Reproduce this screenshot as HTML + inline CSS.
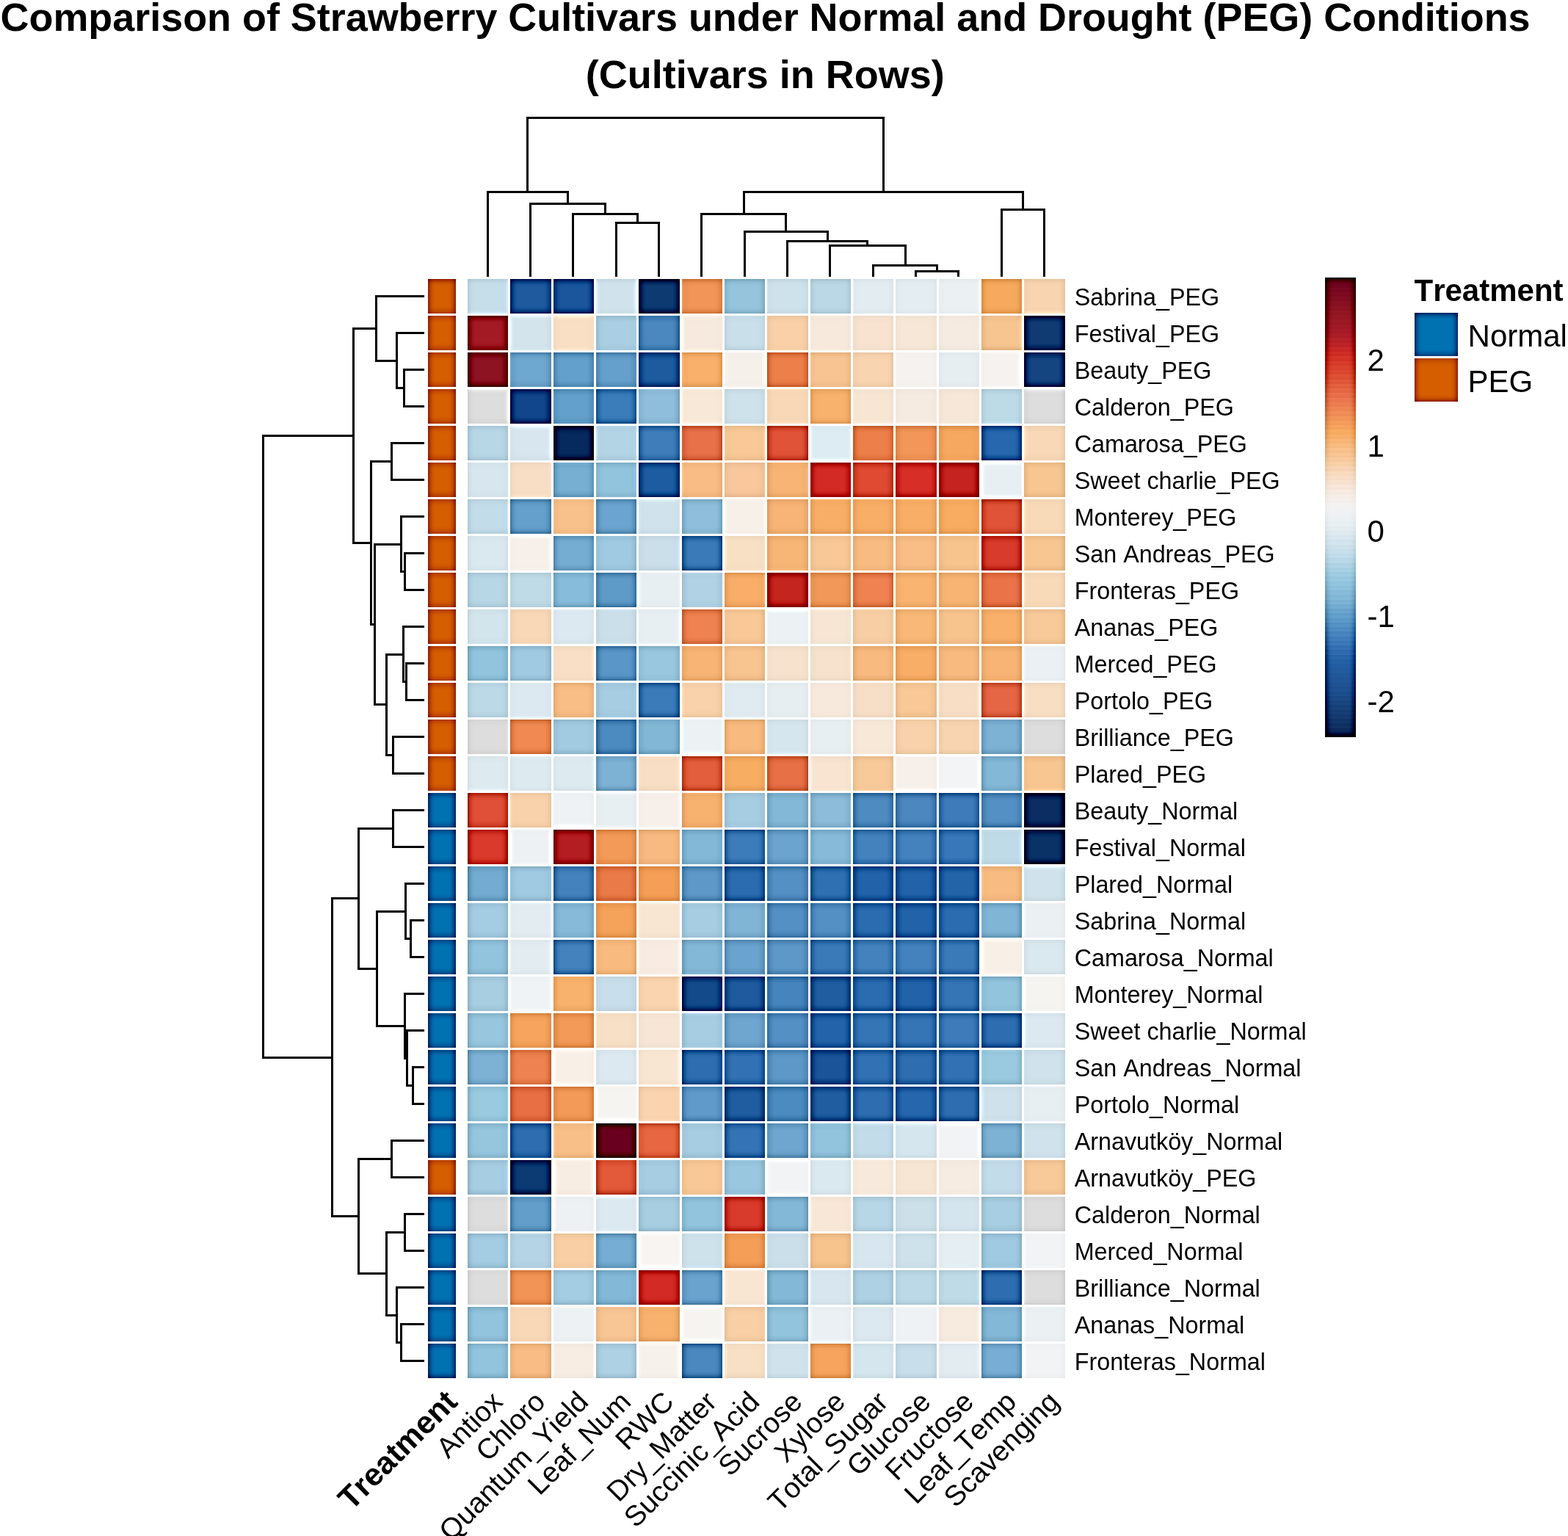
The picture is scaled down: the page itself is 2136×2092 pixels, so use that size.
<!DOCTYPE html><html><head><meta charset="utf-8"><title>Heatmap</title><style>html,body{margin:0;padding:0;background:#fff;overflow:hidden;}svg{display:block;}text{font-family:"Liberation Sans",Arial,sans-serif;fill:#000;font-kerning:none;font-feature-settings:"kern" 0;}</style></head><body>
<svg width="2136" height="2092" viewBox="0 0 2136 2092">
<rect width="2136" height="2092" fill="#fff"/>
<text x="1042.6" y="42" font-size="53.9" font-weight="bold" text-anchor="middle">Comparison of Strawberry Cultivars under Normal and Drought (PEG) Conditions</text>
<text x="1042.3" y="120" font-size="54" font-weight="bold" text-anchor="middle">(Cultivars in Rows)</text>
<defs><filter id="us" x="0" y="0" width="1" height="1" color-interpolation-filters="sRGB"><feGaussianBlur in="SourceGraphic" stdDeviation="4" result="b"/><feColorMatrix in="SourceGraphic" type="matrix" values="0.299 0.587 0.114 0 0 0.299 0.587 0.114 0 0 0.299 0.587 0.114 0 0 0 0 0 0 1" result="ys"/><feColorMatrix in="b" type="matrix" values="0.299 0.587 0.114 0 0 0.299 0.587 0.114 0 0 0.299 0.587 0.114 0 0 0 0 0 0 1" result="yb"/><feComposite in="yb" in2="ys" operator="arithmetic" k1="0" k2="1" k3="-1" k4="1" result="pp"/><feComposite in="ys" in2="yb" operator="arithmetic" k1="0" k2="1" k3="-1" k4="1" result="np"/><feComposite in="SourceGraphic" in2="pp" operator="arithmetic" k1="0" k2="1" k3="-1.0" k4="1.0" result="r1"/><feComposite in="r1" in2="np" operator="arithmetic" k1="0" k2="1" k3="1.0" k4="-1.0"/></filter></defs>
<g filter="url(#us)" shape-rendering="crispEdges"><rect x="570" y="370" width="895" height="520" fill="#fff"/><rect x="570" y="880" width="895" height="1010" fill="#fff"/>
<rect x="637" y="380" width="55" height="47" fill="#C5DEEA"/>
<rect x="695" y="380" width="56" height="47" fill="#1F5A9E"/>
<rect x="754" y="380" width="55" height="47" fill="#1B569C"/>
<rect x="812" y="380" width="55" height="47" fill="#D0E3EC"/>
<rect x="870" y="380" width="56" height="47" fill="#0D3A70"/>
<rect x="929" y="380" width="55" height="47" fill="#F29558"/>
<rect x="987" y="380" width="55" height="47" fill="#96C4DC"/>
<rect x="1045" y="380" width="56" height="47" fill="#CEE2EC"/>
<rect x="1104" y="380" width="55" height="47" fill="#BAD8E6"/>
<rect x="1162" y="380" width="55" height="47" fill="#E2ECF1"/>
<rect x="1220" y="380" width="56" height="47" fill="#E4EDF1"/>
<rect x="1279" y="380" width="55" height="47" fill="#EBF0F3"/>
<rect x="1337" y="380" width="55" height="47" fill="#F7A95E"/>
<rect x="1395" y="380" width="56" height="47" fill="#F8D5B0"/>
<rect x="583" y="380.0" width="38" height="47.0" fill="#D55E00"/>
<rect x="637" y="430" width="55" height="47" fill="#A31A24"/>
<rect x="695" y="430" width="56" height="47" fill="#D3E4EC"/>
<rect x="754" y="430" width="55" height="47" fill="#F9DFC4"/>
<rect x="812" y="430" width="55" height="47" fill="#AACFE3"/>
<rect x="870" y="430" width="56" height="47" fill="#4A88BF"/>
<rect x="929" y="430" width="55" height="47" fill="#F6EADE"/>
<rect x="987" y="430" width="55" height="47" fill="#C9DFEA"/>
<rect x="1045" y="430" width="56" height="47" fill="#F9D0A8"/>
<rect x="1104" y="430" width="55" height="47" fill="#F7EADC"/>
<rect x="1162" y="430" width="55" height="47" fill="#F7E3D0"/>
<rect x="1220" y="430" width="56" height="47" fill="#F7E7D7"/>
<rect x="1279" y="430" width="55" height="47" fill="#F6EBE0"/>
<rect x="1337" y="430" width="55" height="47" fill="#F7C590"/>
<rect x="1395" y="430" width="56" height="47" fill="#0F3A72"/>
<rect x="583" y="430.0" width="38" height="47.0" fill="#D55E00"/>
<rect x="637" y="480" width="55" height="47" fill="#8D1222"/>
<rect x="695" y="480" width="56" height="47" fill="#6EA7CF"/>
<rect x="754" y="480" width="55" height="47" fill="#64A0CC"/>
<rect x="812" y="480" width="55" height="47" fill="#65A0CC"/>
<rect x="870" y="480" width="56" height="47" fill="#1E5A9E"/>
<rect x="929" y="480" width="55" height="47" fill="#F8B06A"/>
<rect x="987" y="480" width="55" height="47" fill="#F5F0EA"/>
<rect x="1045" y="480" width="56" height="47" fill="#ED7F4A"/>
<rect x="1104" y="480" width="55" height="47" fill="#F8C592"/>
<rect x="1162" y="480" width="55" height="47" fill="#F8D4B0"/>
<rect x="1220" y="480" width="56" height="47" fill="#F5F2F0"/>
<rect x="1279" y="480" width="55" height="47" fill="#E6EEF2"/>
<rect x="1337" y="480" width="55" height="47" fill="#F5F2F0"/>
<rect x="1395" y="480" width="56" height="47" fill="#144580"/>
<rect x="583" y="480.0" width="38" height="47.0" fill="#D55E00"/>
<rect x="637" y="530" width="55" height="47" fill="#DDDDDD"/>
<rect x="695" y="530" width="56" height="47" fill="#11468A"/>
<rect x="754" y="530" width="55" height="47" fill="#64A0CC"/>
<rect x="812" y="530" width="55" height="47" fill="#3A7DBA"/>
<rect x="870" y="530" width="56" height="47" fill="#8EBEDB"/>
<rect x="929" y="530" width="55" height="47" fill="#F7E8D8"/>
<rect x="987" y="530" width="55" height="47" fill="#CEE2EC"/>
<rect x="1045" y="530" width="56" height="47" fill="#F9D8B8"/>
<rect x="1104" y="530" width="55" height="47" fill="#F8B26E"/>
<rect x="1162" y="530" width="55" height="47" fill="#F7E6D4"/>
<rect x="1220" y="530" width="56" height="47" fill="#F6EBE0"/>
<rect x="1279" y="530" width="55" height="47" fill="#F6E7D8"/>
<rect x="1337" y="530" width="55" height="47" fill="#BDDAE7"/>
<rect x="1395" y="530" width="56" height="47" fill="#DDDDDD"/>
<rect x="583" y="530.0" width="38" height="47.0" fill="#D55E00"/>
<rect x="637" y="580" width="55" height="47" fill="#B7D6E6"/>
<rect x="695" y="580" width="56" height="47" fill="#D8E7EF"/>
<rect x="754" y="580" width="55" height="47" fill="#062A5E"/>
<rect x="812" y="580" width="55" height="47" fill="#B3D4E5"/>
<rect x="870" y="580" width="56" height="47" fill="#3E7DBA"/>
<rect x="929" y="580" width="55" height="47" fill="#E9714A"/>
<rect x="987" y="580" width="55" height="47" fill="#F8C896"/>
<rect x="1045" y="580" width="56" height="47" fill="#E05338"/>
<rect x="1104" y="580" width="55" height="47" fill="#DDEBF2"/>
<rect x="1162" y="580" width="55" height="47" fill="#ED7F4A"/>
<rect x="1220" y="580" width="56" height="47" fill="#F2965A"/>
<rect x="1279" y="580" width="55" height="47" fill="#F6A860"/>
<rect x="1337" y="580" width="55" height="47" fill="#2767AD"/>
<rect x="1395" y="580" width="56" height="47" fill="#F8D8B6"/>
<rect x="583" y="580.0" width="38" height="47.0" fill="#D55E00"/>
<rect x="637" y="630" width="55" height="47" fill="#D8E7EF"/>
<rect x="695" y="630" width="56" height="47" fill="#F8DEC4"/>
<rect x="754" y="630" width="55" height="47" fill="#77AFD3"/>
<rect x="812" y="630" width="55" height="47" fill="#93C4DE"/>
<rect x="870" y="630" width="56" height="47" fill="#1D5CA0"/>
<rect x="929" y="630" width="55" height="47" fill="#F8BC84"/>
<rect x="987" y="630" width="55" height="47" fill="#F8C89C"/>
<rect x="1045" y="630" width="56" height="47" fill="#F8B474"/>
<rect x="1104" y="630" width="55" height="47" fill="#D42A25"/>
<rect x="1162" y="630" width="55" height="47" fill="#E04A32"/>
<rect x="1220" y="630" width="56" height="47" fill="#D72E28"/>
<rect x="1279" y="630" width="55" height="47" fill="#C4231F"/>
<rect x="1337" y="630" width="55" height="47" fill="#E8EFF3"/>
<rect x="1395" y="630" width="56" height="47" fill="#F8C690"/>
<rect x="583" y="630.0" width="38" height="47.0" fill="#D55E00"/>
<rect x="637" y="680" width="55" height="47" fill="#C3DCE9"/>
<rect x="695" y="680" width="56" height="47" fill="#65A0CC"/>
<rect x="754" y="680" width="55" height="47" fill="#F8C08A"/>
<rect x="812" y="680" width="55" height="47" fill="#6BA4CE"/>
<rect x="870" y="680" width="56" height="47" fill="#D0E3EC"/>
<rect x="929" y="680" width="55" height="47" fill="#8EBEDB"/>
<rect x="987" y="680" width="55" height="47" fill="#F7F0E8"/>
<rect x="1045" y="680" width="56" height="47" fill="#F8B476"/>
<rect x="1104" y="680" width="55" height="47" fill="#F8AE66"/>
<rect x="1162" y="680" width="55" height="47" fill="#F8AE66"/>
<rect x="1220" y="680" width="56" height="47" fill="#F8AE66"/>
<rect x="1279" y="680" width="55" height="47" fill="#F8AC62"/>
<rect x="1337" y="680" width="55" height="47" fill="#E05338"/>
<rect x="1395" y="680" width="56" height="47" fill="#F8DAB8"/>
<rect x="583" y="680.0" width="38" height="47.0" fill="#D55E00"/>
<rect x="637" y="730" width="55" height="47" fill="#DAE8EF"/>
<rect x="695" y="730" width="56" height="47" fill="#F7F0EA"/>
<rect x="754" y="730" width="55" height="47" fill="#75ADD2"/>
<rect x="812" y="730" width="55" height="47" fill="#A0CAE1"/>
<rect x="870" y="730" width="56" height="47" fill="#CADFEA"/>
<rect x="929" y="730" width="55" height="47" fill="#3A7AB8"/>
<rect x="987" y="730" width="55" height="47" fill="#F8E0C4"/>
<rect x="1045" y="730" width="56" height="47" fill="#F8B676"/>
<rect x="1104" y="730" width="55" height="47" fill="#F8C896"/>
<rect x="1162" y="730" width="55" height="47" fill="#F8BC82"/>
<rect x="1220" y="730" width="56" height="47" fill="#F8BE86"/>
<rect x="1279" y="730" width="55" height="47" fill="#F8C48E"/>
<rect x="1337" y="730" width="55" height="47" fill="#D83A2C"/>
<rect x="1395" y="730" width="56" height="47" fill="#F8C690"/>
<rect x="583" y="730.0" width="38" height="47.0" fill="#D55E00"/>
<rect x="637" y="780" width="55" height="47" fill="#B8D7E6"/>
<rect x="695" y="780" width="56" height="47" fill="#C0DBE8"/>
<rect x="754" y="780" width="55" height="47" fill="#87BCDA"/>
<rect x="812" y="780" width="55" height="47" fill="#5E9BC9"/>
<rect x="870" y="780" width="56" height="47" fill="#E8EFF2"/>
<rect x="929" y="780" width="55" height="47" fill="#B0D2E4"/>
<rect x="987" y="780" width="55" height="47" fill="#F8AE68"/>
<rect x="1045" y="780" width="56" height="47" fill="#C4251F"/>
<rect x="1104" y="780" width="55" height="47" fill="#F29858"/>
<rect x="1162" y="780" width="55" height="47" fill="#EE8250"/>
<rect x="1220" y="780" width="56" height="47" fill="#F8B470"/>
<rect x="1279" y="780" width="55" height="47" fill="#F8B472"/>
<rect x="1337" y="780" width="55" height="47" fill="#EA7448"/>
<rect x="1395" y="780" width="56" height="47" fill="#F9DAB8"/>
<rect x="583" y="780.0" width="38" height="47.0" fill="#D55E00"/>
<rect x="637" y="830" width="55" height="47" fill="#D2E4EC"/>
<rect x="695" y="830" width="56" height="47" fill="#F9D8B8"/>
<rect x="754" y="830" width="55" height="47" fill="#DCE9F0"/>
<rect x="812" y="830" width="55" height="47" fill="#CADFEA"/>
<rect x="870" y="830" width="56" height="47" fill="#E8EFF2"/>
<rect x="929" y="830" width="55" height="47" fill="#EE8250"/>
<rect x="987" y="830" width="55" height="47" fill="#F8C896"/>
<rect x="1045" y="830" width="56" height="47" fill="#ECF1F3"/>
<rect x="1104" y="830" width="55" height="47" fill="#F7E6D4"/>
<rect x="1162" y="830" width="55" height="47" fill="#F8CFA4"/>
<rect x="1220" y="830" width="56" height="47" fill="#F8B878"/>
<rect x="1279" y="830" width="55" height="47" fill="#F8C48E"/>
<rect x="1337" y="830" width="55" height="47" fill="#F8B06A"/>
<rect x="1395" y="830" width="56" height="47" fill="#F8CA9A"/>
<rect x="583" y="830.0" width="38" height="47.0" fill="#D55E00"/>
<rect x="637" y="880" width="55" height="47" fill="#92C4DE"/>
<rect x="695" y="880" width="56" height="47" fill="#9FCAE1"/>
<rect x="754" y="880" width="55" height="47" fill="#F8DFC6"/>
<rect x="812" y="880" width="55" height="47" fill="#5A96C7"/>
<rect x="870" y="880" width="56" height="47" fill="#99C7DF"/>
<rect x="929" y="880" width="55" height="47" fill="#F8B474"/>
<rect x="987" y="880" width="55" height="47" fill="#F8C490"/>
<rect x="1045" y="880" width="56" height="47" fill="#F7E2CE"/>
<rect x="1104" y="880" width="55" height="47" fill="#F7E2CE"/>
<rect x="1162" y="880" width="55" height="47" fill="#F8BA7E"/>
<rect x="1220" y="880" width="56" height="47" fill="#F8AE66"/>
<rect x="1279" y="880" width="55" height="47" fill="#F8BA7E"/>
<rect x="1337" y="880" width="55" height="47" fill="#F8B474"/>
<rect x="1395" y="880" width="56" height="47" fill="#EAF0F3"/>
<rect x="583" y="880.0" width="38" height="47.0" fill="#D55E00"/>
<rect x="637" y="930" width="55" height="47" fill="#BCD9E7"/>
<rect x="695" y="930" width="56" height="47" fill="#DCE9F0"/>
<rect x="754" y="930" width="55" height="47" fill="#F8BE86"/>
<rect x="812" y="930" width="55" height="47" fill="#A6CDE2"/>
<rect x="870" y="930" width="56" height="47" fill="#3C7BB9"/>
<rect x="929" y="930" width="55" height="47" fill="#F9D2AC"/>
<rect x="987" y="930" width="55" height="47" fill="#E0EBF1"/>
<rect x="1045" y="930" width="56" height="47" fill="#E6EEF2"/>
<rect x="1104" y="930" width="55" height="47" fill="#F7EADC"/>
<rect x="1162" y="930" width="55" height="47" fill="#F7DEC6"/>
<rect x="1220" y="930" width="56" height="47" fill="#F8C896"/>
<rect x="1279" y="930" width="55" height="47" fill="#F8DEC4"/>
<rect x="1337" y="930" width="55" height="47" fill="#E56644"/>
<rect x="1395" y="930" width="56" height="47" fill="#F8DEC2"/>
<rect x="583" y="930.0" width="38" height="47.0" fill="#D55E00"/>
<rect x="637" y="980" width="55" height="47" fill="#DDDDDD"/>
<rect x="695" y="980" width="56" height="47" fill="#F18A52"/>
<rect x="754" y="980" width="55" height="47" fill="#A2CBE1"/>
<rect x="812" y="980" width="55" height="47" fill="#4C8BC0"/>
<rect x="870" y="980" width="56" height="47" fill="#82B7D6"/>
<rect x="929" y="980" width="55" height="47" fill="#ECF1F4"/>
<rect x="987" y="980" width="55" height="47" fill="#F8BA7E"/>
<rect x="1045" y="980" width="56" height="47" fill="#D6E6EE"/>
<rect x="1104" y="980" width="55" height="47" fill="#E8EFF2"/>
<rect x="1162" y="980" width="55" height="47" fill="#F7E8D8"/>
<rect x="1220" y="980" width="56" height="47" fill="#F8D2AA"/>
<rect x="1279" y="980" width="55" height="47" fill="#F8D4B0"/>
<rect x="1337" y="980" width="55" height="47" fill="#7DB2D5"/>
<rect x="1395" y="980" width="56" height="47" fill="#DDDDDD"/>
<rect x="583" y="980.0" width="38" height="47.0" fill="#D55E00"/>
<rect x="637" y="1030" width="55" height="47" fill="#DDEAF0"/>
<rect x="695" y="1030" width="56" height="47" fill="#DDEAF0"/>
<rect x="754" y="1030" width="55" height="47" fill="#DDEAF0"/>
<rect x="812" y="1030" width="55" height="47" fill="#7DB2D5"/>
<rect x="870" y="1030" width="56" height="47" fill="#F8DEC4"/>
<rect x="929" y="1030" width="55" height="47" fill="#E35E3C"/>
<rect x="987" y="1030" width="55" height="47" fill="#F8AE62"/>
<rect x="1045" y="1030" width="56" height="47" fill="#E87046"/>
<rect x="1104" y="1030" width="55" height="47" fill="#F8E4D0"/>
<rect x="1162" y="1030" width="55" height="47" fill="#F8CA9A"/>
<rect x="1220" y="1030" width="56" height="47" fill="#F7F0EA"/>
<rect x="1279" y="1030" width="55" height="47" fill="#F3F4F5"/>
<rect x="1337" y="1030" width="55" height="47" fill="#84B8D7"/>
<rect x="1395" y="1030" width="56" height="47" fill="#F8C690"/>
<rect x="583" y="1030.0" width="38" height="47.0" fill="#D55E00"/>
<rect x="637" y="1080" width="55" height="47" fill="#E05038"/>
<rect x="695" y="1080" width="56" height="47" fill="#F9D2AC"/>
<rect x="754" y="1080" width="55" height="47" fill="#EEF2F4"/>
<rect x="812" y="1080" width="55" height="47" fill="#E8EFF2"/>
<rect x="870" y="1080" width="56" height="47" fill="#F7F0EA"/>
<rect x="929" y="1080" width="55" height="47" fill="#F8B270"/>
<rect x="987" y="1080" width="55" height="47" fill="#A6CDE2"/>
<rect x="1045" y="1080" width="56" height="47" fill="#84B8D7"/>
<rect x="1104" y="1080" width="55" height="47" fill="#8CBCDA"/>
<rect x="1162" y="1080" width="55" height="47" fill="#4E8BC0"/>
<rect x="1220" y="1080" width="56" height="47" fill="#4C88BF"/>
<rect x="1279" y="1080" width="55" height="47" fill="#3D7BBA"/>
<rect x="1337" y="1080" width="55" height="47" fill="#5590C4"/>
<rect x="1395" y="1080" width="56" height="47" fill="#0B2D62"/>
<rect x="583" y="1080.0" width="38" height="47.0" fill="#0072B2"/>
<rect x="637" y="1130" width="55" height="47" fill="#DA3A2C"/>
<rect x="695" y="1130" width="56" height="47" fill="#EDF1F3"/>
<rect x="754" y="1130" width="55" height="47" fill="#B41E22"/>
<rect x="812" y="1130" width="55" height="47" fill="#F49A58"/>
<rect x="870" y="1130" width="56" height="47" fill="#F8BA80"/>
<rect x="929" y="1130" width="55" height="47" fill="#84B8D7"/>
<rect x="987" y="1130" width="55" height="47" fill="#3C7CBA"/>
<rect x="1045" y="1130" width="56" height="47" fill="#6BA4CE"/>
<rect x="1104" y="1130" width="55" height="47" fill="#86BAD8"/>
<rect x="1162" y="1130" width="55" height="47" fill="#4482BD"/>
<rect x="1220" y="1130" width="56" height="47" fill="#4482BD"/>
<rect x="1279" y="1130" width="55" height="47" fill="#3878B8"/>
<rect x="1337" y="1130" width="55" height="47" fill="#C0DBE8"/>
<rect x="1395" y="1130" width="56" height="47" fill="#0B3266"/>
<rect x="583" y="1130.0" width="38" height="47.0" fill="#0072B2"/>
<rect x="637" y="1180" width="55" height="47" fill="#73ABD1"/>
<rect x="695" y="1180" width="56" height="47" fill="#A0CAE1"/>
<rect x="754" y="1180" width="55" height="47" fill="#4482BD"/>
<rect x="812" y="1180" width="55" height="47" fill="#EA7A48"/>
<rect x="870" y="1180" width="56" height="47" fill="#F49E58"/>
<rect x="929" y="1180" width="55" height="47" fill="#5D98C8"/>
<rect x="987" y="1180" width="55" height="47" fill="#2A6CAF"/>
<rect x="1045" y="1180" width="56" height="47" fill="#5590C4"/>
<rect x="1104" y="1180" width="55" height="47" fill="#2E70B2"/>
<rect x="1162" y="1180" width="55" height="47" fill="#2262A8"/>
<rect x="1220" y="1180" width="56" height="47" fill="#2262A8"/>
<rect x="1279" y="1180" width="55" height="47" fill="#2364A9"/>
<rect x="1337" y="1180" width="55" height="47" fill="#F8BC82"/>
<rect x="1395" y="1180" width="56" height="47" fill="#D0E3EC"/>
<rect x="583" y="1180.0" width="38" height="47.0" fill="#0072B2"/>
<rect x="637" y="1230" width="55" height="47" fill="#A4CCE2"/>
<rect x="695" y="1230" width="56" height="47" fill="#E2ECF1"/>
<rect x="754" y="1230" width="55" height="47" fill="#86BAD8"/>
<rect x="812" y="1230" width="55" height="47" fill="#F5A25A"/>
<rect x="870" y="1230" width="56" height="47" fill="#F8E5D2"/>
<rect x="929" y="1230" width="55" height="47" fill="#A6CDE2"/>
<rect x="987" y="1230" width="55" height="47" fill="#80B5D6"/>
<rect x="1045" y="1230" width="56" height="47" fill="#5590C4"/>
<rect x="1104" y="1230" width="55" height="47" fill="#5590C4"/>
<rect x="1162" y="1230" width="55" height="47" fill="#2A6CAF"/>
<rect x="1220" y="1230" width="56" height="47" fill="#2262A8"/>
<rect x="1279" y="1230" width="55" height="47" fill="#2A6CAF"/>
<rect x="1337" y="1230" width="55" height="47" fill="#80B5D6"/>
<rect x="1395" y="1230" width="56" height="47" fill="#EBF0F3"/>
<rect x="583" y="1230.0" width="38" height="47.0" fill="#0072B2"/>
<rect x="637" y="1280" width="55" height="47" fill="#93C4DE"/>
<rect x="695" y="1280" width="56" height="47" fill="#E2ECF1"/>
<rect x="754" y="1280" width="55" height="47" fill="#4482BD"/>
<rect x="812" y="1280" width="55" height="47" fill="#F8BA7E"/>
<rect x="870" y="1280" width="56" height="47" fill="#F8ECE2"/>
<rect x="929" y="1280" width="55" height="47" fill="#84B8D7"/>
<rect x="987" y="1280" width="55" height="47" fill="#6AA3CD"/>
<rect x="1045" y="1280" width="56" height="47" fill="#5D98C8"/>
<rect x="1104" y="1280" width="55" height="47" fill="#3A7AB8"/>
<rect x="1162" y="1280" width="55" height="47" fill="#4482BD"/>
<rect x="1220" y="1280" width="56" height="47" fill="#4482BD"/>
<rect x="1279" y="1280" width="55" height="47" fill="#3A7AB8"/>
<rect x="1337" y="1280" width="55" height="47" fill="#F8EFE6"/>
<rect x="1395" y="1280" width="56" height="47" fill="#DAE8EF"/>
<rect x="583" y="1280.0" width="38" height="47.0" fill="#0072B2"/>
<rect x="637" y="1330" width="55" height="47" fill="#A8CEE2"/>
<rect x="695" y="1330" width="56" height="47" fill="#F0F3F5"/>
<rect x="754" y="1330" width="55" height="47" fill="#F8B26E"/>
<rect x="812" y="1330" width="55" height="47" fill="#C8DEEA"/>
<rect x="870" y="1330" width="56" height="47" fill="#F9D4AE"/>
<rect x="929" y="1330" width="55" height="47" fill="#134A8A"/>
<rect x="987" y="1330" width="55" height="47" fill="#1F5A9E"/>
<rect x="1045" y="1330" width="56" height="47" fill="#4684BE"/>
<rect x="1104" y="1330" width="55" height="47" fill="#1F5CA0"/>
<rect x="1162" y="1330" width="55" height="47" fill="#2A6CAF"/>
<rect x="1220" y="1330" width="56" height="47" fill="#2262A8"/>
<rect x="1279" y="1330" width="55" height="47" fill="#3575B6"/>
<rect x="1337" y="1330" width="55" height="47" fill="#93C4DE"/>
<rect x="1395" y="1330" width="56" height="47" fill="#F6F4F1"/>
<rect x="583" y="1330.0" width="38" height="47.0" fill="#0072B2"/>
<rect x="637" y="1380" width="55" height="47" fill="#98C6DF"/>
<rect x="695" y="1380" width="56" height="47" fill="#F6A45E"/>
<rect x="754" y="1380" width="55" height="47" fill="#F49A58"/>
<rect x="812" y="1380" width="55" height="47" fill="#F8E0C6"/>
<rect x="870" y="1380" width="56" height="47" fill="#F7E6D6"/>
<rect x="929" y="1380" width="55" height="47" fill="#A6CDE2"/>
<rect x="987" y="1380" width="55" height="47" fill="#6EA6CF"/>
<rect x="1045" y="1380" width="56" height="47" fill="#5590C4"/>
<rect x="1104" y="1380" width="55" height="47" fill="#2263A9"/>
<rect x="1162" y="1380" width="55" height="47" fill="#3575B6"/>
<rect x="1220" y="1380" width="56" height="47" fill="#3575B6"/>
<rect x="1279" y="1380" width="55" height="47" fill="#3D7BBA"/>
<rect x="1337" y="1380" width="55" height="47" fill="#2E6EB0"/>
<rect x="1395" y="1380" width="56" height="47" fill="#DDE9F0"/>
<rect x="583" y="1380.0" width="38" height="47.0" fill="#0072B2"/>
<rect x="637" y="1430" width="55" height="47" fill="#7DB2D5"/>
<rect x="695" y="1430" width="56" height="47" fill="#EE8250"/>
<rect x="754" y="1430" width="55" height="47" fill="#F8EFE6"/>
<rect x="812" y="1430" width="55" height="47" fill="#DDE9F0"/>
<rect x="870" y="1430" width="56" height="47" fill="#F8E5D2"/>
<rect x="929" y="1430" width="55" height="47" fill="#2E6EB0"/>
<rect x="987" y="1430" width="55" height="47" fill="#3272B4"/>
<rect x="1045" y="1430" width="56" height="47" fill="#5D98C8"/>
<rect x="1104" y="1430" width="55" height="47" fill="#1B5498"/>
<rect x="1162" y="1430" width="55" height="47" fill="#3272B4"/>
<rect x="1220" y="1430" width="56" height="47" fill="#2E6EB0"/>
<rect x="1279" y="1430" width="55" height="47" fill="#3272B4"/>
<rect x="1337" y="1430" width="55" height="47" fill="#9ACAE0"/>
<rect x="1395" y="1430" width="56" height="47" fill="#D0E3EC"/>
<rect x="583" y="1430.0" width="38" height="47.0" fill="#0072B2"/>
<rect x="637" y="1480" width="55" height="47" fill="#9ACAE0"/>
<rect x="695" y="1480" width="56" height="47" fill="#E86E44"/>
<rect x="754" y="1480" width="55" height="47" fill="#F49A58"/>
<rect x="812" y="1480" width="55" height="47" fill="#F6F4F1"/>
<rect x="870" y="1480" width="56" height="47" fill="#F9D4AE"/>
<rect x="929" y="1480" width="55" height="47" fill="#609ACA"/>
<rect x="987" y="1480" width="55" height="47" fill="#1F5CA0"/>
<rect x="1045" y="1480" width="56" height="47" fill="#4C8BC0"/>
<rect x="1104" y="1480" width="55" height="47" fill="#1F5CA0"/>
<rect x="1162" y="1480" width="55" height="47" fill="#2E6EB0"/>
<rect x="1220" y="1480" width="56" height="47" fill="#2666AC"/>
<rect x="1279" y="1480" width="55" height="47" fill="#2E6EB0"/>
<rect x="1337" y="1480" width="55" height="47" fill="#CFE2EC"/>
<rect x="1395" y="1480" width="56" height="47" fill="#E8EFF2"/>
<rect x="583" y="1480.0" width="38" height="47.0" fill="#0072B2"/>
<rect x="637" y="1530" width="55" height="47" fill="#96C6DE"/>
<rect x="695" y="1530" width="56" height="47" fill="#2E6EB0"/>
<rect x="754" y="1530" width="55" height="47" fill="#F8C088"/>
<rect x="812" y="1530" width="55" height="47" fill="#6A0020"/>
<rect x="870" y="1530" width="56" height="47" fill="#E86642"/>
<rect x="929" y="1530" width="55" height="47" fill="#A6CDE2"/>
<rect x="987" y="1530" width="55" height="47" fill="#3474B5"/>
<rect x="1045" y="1530" width="56" height="47" fill="#6EA6CF"/>
<rect x="1104" y="1530" width="55" height="47" fill="#92C4DE"/>
<rect x="1162" y="1530" width="55" height="47" fill="#C3DCE9"/>
<rect x="1220" y="1530" width="56" height="47" fill="#D6E6EE"/>
<rect x="1279" y="1530" width="55" height="47" fill="#F2F3F5"/>
<rect x="1337" y="1530" width="55" height="47" fill="#7DB2D5"/>
<rect x="1395" y="1530" width="56" height="47" fill="#D0E3EC"/>
<rect x="583" y="1530.0" width="38" height="47.0" fill="#0072B2"/>
<rect x="637" y="1580" width="55" height="47" fill="#A6CDE2"/>
<rect x="695" y="1580" width="56" height="47" fill="#0C3A73"/>
<rect x="754" y="1580" width="55" height="47" fill="#F8EDE2"/>
<rect x="812" y="1580" width="55" height="47" fill="#E35A3A"/>
<rect x="870" y="1580" width="56" height="47" fill="#A6CDE2"/>
<rect x="929" y="1580" width="55" height="47" fill="#F8C896"/>
<rect x="987" y="1580" width="55" height="47" fill="#99C7DF"/>
<rect x="1045" y="1580" width="56" height="47" fill="#F2F3F5"/>
<rect x="1104" y="1580" width="55" height="47" fill="#DAE8EF"/>
<rect x="1162" y="1580" width="55" height="47" fill="#F7EADC"/>
<rect x="1220" y="1580" width="56" height="47" fill="#F7E6D4"/>
<rect x="1279" y="1580" width="55" height="47" fill="#F7ECE2"/>
<rect x="1337" y="1580" width="55" height="47" fill="#C3DCE9"/>
<rect x="1395" y="1580" width="56" height="47" fill="#F8CA9A"/>
<rect x="583" y="1580.0" width="38" height="47.0" fill="#D55E00"/>
<rect x="637" y="1630" width="55" height="47" fill="#DDDDDD"/>
<rect x="695" y="1630" width="56" height="47" fill="#639ECB"/>
<rect x="754" y="1630" width="55" height="47" fill="#EDF1F3"/>
<rect x="812" y="1630" width="55" height="47" fill="#DDE9F0"/>
<rect x="870" y="1630" width="56" height="47" fill="#A8CEE2"/>
<rect x="929" y="1630" width="55" height="47" fill="#93C4DE"/>
<rect x="987" y="1630" width="55" height="47" fill="#D83A2C"/>
<rect x="1045" y="1630" width="56" height="47" fill="#84B8D7"/>
<rect x="1104" y="1630" width="55" height="47" fill="#F8E7D6"/>
<rect x="1162" y="1630" width="55" height="47" fill="#B8D7E6"/>
<rect x="1220" y="1630" width="56" height="47" fill="#CCE0EA"/>
<rect x="1279" y="1630" width="55" height="47" fill="#D4E5EE"/>
<rect x="1337" y="1630" width="55" height="47" fill="#A8CEE2"/>
<rect x="1395" y="1630" width="56" height="47" fill="#DDDDDD"/>
<rect x="583" y="1630.0" width="38" height="47.0" fill="#0072B2"/>
<rect x="637" y="1680" width="55" height="47" fill="#A4CCE2"/>
<rect x="695" y="1680" width="56" height="47" fill="#B5D5E6"/>
<rect x="754" y="1680" width="55" height="47" fill="#F9D0A6"/>
<rect x="812" y="1680" width="55" height="47" fill="#76ADD2"/>
<rect x="870" y="1680" width="56" height="47" fill="#F7F4F1"/>
<rect x="929" y="1680" width="55" height="47" fill="#CEE2EC"/>
<rect x="987" y="1680" width="55" height="47" fill="#F59E58"/>
<rect x="1045" y="1680" width="56" height="47" fill="#CADFEA"/>
<rect x="1104" y="1680" width="55" height="47" fill="#F8C48E"/>
<rect x="1162" y="1680" width="55" height="47" fill="#D8E7EF"/>
<rect x="1220" y="1680" width="56" height="47" fill="#CEE2EC"/>
<rect x="1279" y="1680" width="55" height="47" fill="#E5EEF2"/>
<rect x="1337" y="1680" width="55" height="47" fill="#A0CAE1"/>
<rect x="1395" y="1680" width="56" height="47" fill="#F2F3F5"/>
<rect x="583" y="1680.0" width="38" height="47.0" fill="#0072B2"/>
<rect x="637" y="1730" width="55" height="47" fill="#DDDDDD"/>
<rect x="695" y="1730" width="56" height="47" fill="#F29456"/>
<rect x="754" y="1730" width="55" height="47" fill="#A4CCE2"/>
<rect x="812" y="1730" width="55" height="47" fill="#84B8D7"/>
<rect x="870" y="1730" width="56" height="47" fill="#D42A25"/>
<rect x="929" y="1730" width="55" height="47" fill="#6AA3CD"/>
<rect x="987" y="1730" width="55" height="47" fill="#F8E5D2"/>
<rect x="1045" y="1730" width="56" height="47" fill="#84B8D7"/>
<rect x="1104" y="1730" width="55" height="47" fill="#D8E7EF"/>
<rect x="1162" y="1730" width="55" height="47" fill="#AED1E4"/>
<rect x="1220" y="1730" width="56" height="47" fill="#BCD9E7"/>
<rect x="1279" y="1730" width="55" height="47" fill="#C0DBE8"/>
<rect x="1337" y="1730" width="55" height="47" fill="#2E6EB0"/>
<rect x="1395" y="1730" width="56" height="47" fill="#DDDDDD"/>
<rect x="583" y="1730.0" width="38" height="47.0" fill="#0072B2"/>
<rect x="637" y="1780" width="55" height="47" fill="#93C4DE"/>
<rect x="695" y="1780" width="56" height="47" fill="#F9D8B8"/>
<rect x="754" y="1780" width="55" height="47" fill="#EDF1F3"/>
<rect x="812" y="1780" width="55" height="47" fill="#F8C594"/>
<rect x="870" y="1780" width="56" height="47" fill="#F8B26E"/>
<rect x="929" y="1780" width="55" height="47" fill="#F6F4F1"/>
<rect x="987" y="1780" width="55" height="47" fill="#F9D0A6"/>
<rect x="1045" y="1780" width="56" height="47" fill="#93C4DE"/>
<rect x="1104" y="1780" width="55" height="47" fill="#EAF0F3"/>
<rect x="1162" y="1780" width="55" height="47" fill="#DCE9F0"/>
<rect x="1220" y="1780" width="56" height="47" fill="#EFF2F4"/>
<rect x="1279" y="1780" width="55" height="47" fill="#F7EADE"/>
<rect x="1337" y="1780" width="55" height="47" fill="#84B8D7"/>
<rect x="1395" y="1780" width="56" height="47" fill="#EBF0F3"/>
<rect x="583" y="1780.0" width="38" height="47.0" fill="#0072B2"/>
<rect x="637" y="1830" width="55" height="47" fill="#93C4DE"/>
<rect x="695" y="1830" width="56" height="47" fill="#F8BC84"/>
<rect x="754" y="1830" width="55" height="47" fill="#F7EDE2"/>
<rect x="812" y="1830" width="55" height="47" fill="#AED1E4"/>
<rect x="870" y="1830" width="56" height="47" fill="#F7F1EC"/>
<rect x="929" y="1830" width="55" height="47" fill="#4A88BF"/>
<rect x="987" y="1830" width="55" height="47" fill="#F8E0C6"/>
<rect x="1045" y="1830" width="56" height="47" fill="#D0E3EC"/>
<rect x="1104" y="1830" width="55" height="47" fill="#F6A45E"/>
<rect x="1162" y="1830" width="55" height="47" fill="#D6E6EE"/>
<rect x="1220" y="1830" width="56" height="47" fill="#C8DEEA"/>
<rect x="1279" y="1830" width="55" height="47" fill="#E2ECF1"/>
<rect x="1337" y="1830" width="55" height="47" fill="#78AED3"/>
<rect x="1395" y="1830" width="56" height="47" fill="#F2F3F5"/>
<rect x="583" y="1830.0" width="38" height="47.0" fill="#0072B2"/>
</g>
<path d="M839.5 377.0V303.5H897.5V377.0 M780.5 377.0V291.5H868.5V303.5 M722.5 377.0V277.5H824.5V291.5 M664.5 377.0V261.5H773.5V277.5 M1247.5 377.0V369.5H1305.5V377.0 M1189.5 377.0V361.5H1276.5V369.5 M1130.5 377.0V334.5H1233.5V361.5 M1072.5 377.0V328.5H1181.5V334.5 M1014.5 377.0V315.5H1127.5V328.5 M955.5 377.0V291.5H1070.5V315.5 M1364.5 377.0V285.5H1422.5V377.0 M1013.5 291.5V261.5H1393.5V285.5 M718.5 261.5V160.5H1203.5V261.5 M578.0 503.5H550.5V553.5H578.0 M578.0 453.5H540.5V528.5H550.5 M578.0 403.5H512.5V491.5H540.5 M578.0 603.5H533.5V653.5H578.0 M578.0 753.5H551.5V803.5H578.0 M578.0 703.5H546.5V778.5H551.5 M578.0 903.5H553.5V953.5H578.0 M578.0 853.5H549.5V928.5H553.5 M578.0 1003.5H535.5V1053.5H578.0 M549.5 891.5H526.5V1028.5H535.5 M546.5 741.5H510.5V959.5H526.5 M533.5 628.5H505.5V850.5H510.5 M512.5 447.5H481.5V739.5H505.5 M578.0 1103.5H535.5V1153.5H578.0 M578.0 1253.5H559.5V1303.5H578.0 M578.0 1203.5H552.5V1278.5H559.5 M578.0 1453.5H562.5V1503.5H578.0 M578.0 1403.5H554.5V1478.5H562.5 M578.0 1353.5H551.5V1441.5H554.5 M552.5 1241.5H513.5V1397.5H551.5 M535.5 1128.5H488.5V1319.5H513.5 M578.0 1553.5H533.5V1603.5H578.0 M578.0 1653.5H551.5V1703.5H578.0 M578.0 1803.5H546.5V1853.5H578.0 M578.0 1753.5H540.5V1828.5H546.5 M551.5 1678.5H526.5V1791.5H540.5 M533.5 1578.5H488.5V1734.5H526.5 M488.5 1223.5H452.5V1656.5H488.5 M481.5 593.5H358.5V1440.5H452.5" fill="none" stroke="#000" stroke-width="3" stroke-linecap="butt" stroke-linejoin="miter"/>
<text x="1463.7" y="415.9" font-size="32.3">Sabrina_PEG</text>
<text x="1463.7" y="465.9" font-size="32.3">Festival_PEG</text>
<text x="1463.7" y="515.9" font-size="32.3">Beauty_PEG</text>
<text x="1463.7" y="565.9" font-size="32.3">Calderon_PEG</text>
<text x="1463.7" y="615.9" font-size="32.3">Camarosa_PEG</text>
<text x="1463.7" y="665.9" font-size="32.3">Sweet charlie_PEG</text>
<text x="1463.7" y="715.9" font-size="32.3">Monterey_PEG</text>
<text x="1463.7" y="765.9" font-size="32.3">San Andreas_PEG</text>
<text x="1463.7" y="815.9" font-size="32.3">Fronteras_PEG</text>
<text x="1463.7" y="865.9" font-size="32.3">Ananas_PEG</text>
<text x="1463.7" y="915.9" font-size="32.3">Merced_PEG</text>
<text x="1463.7" y="965.9" font-size="32.3">Portolo_PEG</text>
<text x="1463.7" y="1015.9" font-size="32.3">Brilliance_PEG</text>
<text x="1463.7" y="1065.9" font-size="32.3">Plared_PEG</text>
<text x="1463.7" y="1115.9" font-size="32.3">Beauty_Normal</text>
<text x="1463.7" y="1165.9" font-size="32.3">Festival_Normal</text>
<text x="1463.7" y="1215.9" font-size="32.3">Plared_Normal</text>
<text x="1463.7" y="1265.9" font-size="32.3">Sabrina_Normal</text>
<text x="1463.7" y="1315.9" font-size="32.3">Camarosa_Normal</text>
<text x="1463.7" y="1365.9" font-size="32.3">Monterey_Normal</text>
<text x="1463.7" y="1415.9" font-size="32.3">Sweet charlie_Normal</text>
<text x="1463.7" y="1465.9" font-size="32.3">San Andreas_Normal</text>
<text x="1463.7" y="1515.9" font-size="32.3">Portolo_Normal</text>
<text x="1463.7" y="1565.9" font-size="32.3">Arnavutköy_Normal</text>
<text x="1463.7" y="1615.9" font-size="32.3">Arnavutköy_PEG</text>
<text x="1463.7" y="1665.9" font-size="32.3">Calderon_Normal</text>
<text x="1463.7" y="1715.9" font-size="32.3">Merced_Normal</text>
<text x="1463.7" y="1765.9" font-size="32.3">Brilliance_Normal</text>
<text x="1463.7" y="1815.9" font-size="32.3">Ananas_Normal</text>
<text x="1463.7" y="1865.9" font-size="32.3">Fronteras_Normal</text>
<text transform="translate(664.2 1889.0) rotate(-45)" y="31.8" font-size="38.8" text-anchor="end">Antiox</text>
<text transform="translate(722.5 1889.0) rotate(-45)" y="31.8" font-size="38.8" text-anchor="end">Chloro</text>
<text transform="translate(780.9 1889.0) rotate(-45)" y="31.8" font-size="38.8" text-anchor="end">Quantum_Yield</text>
<text transform="translate(839.2 1889.0) rotate(-45)" y="31.8" font-size="38.8" text-anchor="end">Leaf_Num</text>
<text transform="translate(897.6 1889.0) rotate(-45)" y="31.8" font-size="38.8" text-anchor="end">RWC</text>
<text transform="translate(955.9 1889.0) rotate(-45)" y="31.8" font-size="38.8" text-anchor="end">Dry_Matter</text>
<text transform="translate(1014.2 1889.0) rotate(-45)" y="31.8" font-size="38.8" text-anchor="end">Succinic_Acid</text>
<text transform="translate(1072.6 1889.0) rotate(-45)" y="31.8" font-size="38.8" text-anchor="end">Sucrose</text>
<text transform="translate(1130.9 1889.0) rotate(-45)" y="31.8" font-size="38.8" text-anchor="end">Xylose</text>
<text transform="translate(1189.3 1889.0) rotate(-45)" y="31.8" font-size="38.8" text-anchor="end">Total_Sugar</text>
<text transform="translate(1247.6 1889.0) rotate(-45)" y="31.8" font-size="38.8" text-anchor="end">Glucose</text>
<text transform="translate(1305.9 1889.0) rotate(-45)" y="31.8" font-size="38.8" text-anchor="end">Fructose</text>
<text transform="translate(1364.3 1889.0) rotate(-45)" y="31.8" font-size="38.8" text-anchor="end">Leaf_Temp</text>
<text transform="translate(1422.6 1889.0) rotate(-45)" y="31.8" font-size="38.8" text-anchor="end">Scavenging</text>
<text transform="translate(603 1889.0) rotate(-45)" y="31.8" font-size="43" font-weight="bold" text-anchor="end">Treatment</text>
<g filter="url(#us)" shape-rendering="crispEdges"><rect x="1790" y="365" width="210" height="655" fill="#fff"/><rect x="1805" y="996.75" width="42" height="7.25" fill="#0B2655"/><rect x="1805" y="990.50" width="42" height="7.25" fill="#0D2B5C"/><rect x="1805" y="984.25" width="42" height="7.25" fill="#0F3062"/><rect x="1805" y="978.00" width="42" height="7.25" fill="#123569"/><rect x="1805" y="971.75" width="42" height="7.25" fill="#143A6F"/><rect x="1805" y="965.50" width="42" height="7.25" fill="#163E75"/><rect x="1805" y="959.25" width="42" height="7.25" fill="#17417B"/><rect x="1805" y="953.00" width="42" height="7.25" fill="#194580"/><rect x="1805" y="946.75" width="42" height="7.25" fill="#1A4986"/><rect x="1805" y="940.50" width="42" height="7.25" fill="#1C4D8B"/><rect x="1805" y="934.25" width="42" height="7.25" fill="#1E5090"/><rect x="1805" y="928.00" width="42" height="7.25" fill="#1E5393"/><rect x="1805" y="921.75" width="42" height="7.25" fill="#205597"/><rect x="1805" y="915.50" width="42" height="7.25" fill="#20589A"/><rect x="1805" y="909.25" width="42" height="7.25" fill="#225B9D"/><rect x="1805" y="903.00" width="42" height="7.25" fill="#225DA1"/><rect x="1805" y="896.75" width="42" height="7.25" fill="#2460A4"/><rect x="1805" y="890.50" width="42" height="7.25" fill="#2764A8"/><rect x="1805" y="884.25" width="42" height="7.25" fill="#2E6AAD"/><rect x="1805" y="878.00" width="42" height="7.25" fill="#3470B2"/><rect x="1805" y="871.75" width="42" height="7.25" fill="#3A77B7"/><rect x="1805" y="865.50" width="42" height="7.25" fill="#417DBB"/><rect x="1805" y="859.25" width="42" height="7.25" fill="#4784BE"/><rect x="1805" y="853.00" width="42" height="7.25" fill="#4E8BC2"/><rect x="1805" y="846.75" width="42" height="7.25" fill="#5492C5"/><rect x="1805" y="840.50" width="42" height="7.25" fill="#5B99C8"/><rect x="1805" y="834.25" width="42" height="7.25" fill="#639FCB"/><rect x="1805" y="828.00" width="42" height="7.25" fill="#6BA5CE"/><rect x="1805" y="821.75" width="42" height="7.25" fill="#73ACD1"/><rect x="1805" y="815.50" width="42" height="7.25" fill="#7BB2D4"/><rect x="1805" y="809.25" width="42" height="7.25" fill="#82B7D6"/><rect x="1805" y="803.00" width="42" height="7.25" fill="#87BBD9"/><rect x="1805" y="796.75" width="42" height="7.25" fill="#8CC0DB"/><rect x="1805" y="790.50" width="42" height="7.25" fill="#91C4DE"/><rect x="1805" y="784.25" width="42" height="7.25" fill="#98C8E0"/><rect x="1805" y="778.00" width="42" height="7.25" fill="#A0CCE1"/><rect x="1805" y="771.75" width="42" height="7.25" fill="#A8D0E3"/><rect x="1805" y="765.50" width="42" height="7.25" fill="#B0D3E5"/><rect x="1805" y="759.25" width="42" height="7.25" fill="#B8D7E7"/><rect x="1805" y="753.00" width="42" height="7.25" fill="#C0DBE9"/><rect x="1805" y="746.75" width="42" height="7.25" fill="#C7DEEB"/><rect x="1805" y="740.50" width="42" height="7.25" fill="#CCE1EC"/><rect x="1805" y="734.25" width="42" height="7.25" fill="#D2E4ED"/><rect x="1805" y="728.00" width="42" height="7.25" fill="#D8E7EF"/><rect x="1805" y="721.75" width="42" height="7.25" fill="#DDEAF0"/><rect x="1805" y="715.50" width="42" height="7.25" fill="#E3ECF1"/><rect x="1805" y="709.25" width="42" height="7.25" fill="#E7EFF2"/><rect x="1805" y="703.00" width="42" height="7.25" fill="#EBF0F2"/><rect x="1805" y="696.75" width="42" height="7.25" fill="#EEF1F3"/><rect x="1805" y="690.50" width="42" height="7.25" fill="#F1F2F3"/><rect x="1805" y="684.25" width="42" height="7.25" fill="#F4F2F1"/><rect x="1805" y="678.00" width="42" height="7.25" fill="#F5EFEC"/><rect x="1805" y="671.75" width="42" height="7.25" fill="#F6EDE8"/><rect x="1805" y="665.50" width="42" height="7.25" fill="#F6EAE1"/><rect x="1805" y="659.25" width="42" height="7.25" fill="#F7E6D9"/><rect x="1805" y="653.00" width="42" height="7.25" fill="#F7E2D0"/><rect x="1805" y="646.75" width="42" height="7.25" fill="#F8DEC8"/><rect x="1805" y="640.50" width="42" height="7.25" fill="#F8DABE"/><rect x="1805" y="634.25" width="42" height="7.25" fill="#F8D4B4"/><rect x="1805" y="628.00" width="42" height="7.25" fill="#F8D0A8"/><rect x="1805" y="621.75" width="42" height="7.25" fill="#F8CA9E"/><rect x="1805" y="615.50" width="42" height="7.25" fill="#F8C593"/><rect x="1805" y="609.25" width="42" height="7.25" fill="#F8C08A"/><rect x="1805" y="603.00" width="42" height="7.25" fill="#F8BB80"/><rect x="1805" y="596.75" width="42" height="7.25" fill="#F8B676"/><rect x="1805" y="590.50" width="42" height="7.25" fill="#F7B06B"/><rect x="1805" y="584.25" width="42" height="7.25" fill="#F7AB61"/><rect x="1805" y="578.00" width="42" height="7.25" fill="#F5A35E"/><rect x="1805" y="571.75" width="42" height="7.25" fill="#F49C5B"/><rect x="1805" y="565.50" width="42" height="7.25" fill="#F29558"/><rect x="1805" y="559.25" width="42" height="7.25" fill="#F08D56"/><rect x="1805" y="553.00" width="42" height="7.25" fill="#EE8653"/><rect x="1805" y="546.75" width="42" height="7.25" fill="#EC7E50"/><rect x="1805" y="540.50" width="42" height="7.25" fill="#EA774D"/><rect x="1805" y="534.25" width="42" height="7.25" fill="#E86F49"/><rect x="1805" y="528.00" width="42" height="7.25" fill="#E56744"/><rect x="1805" y="521.75" width="42" height="7.25" fill="#E35F3E"/><rect x="1805" y="515.50" width="42" height="7.25" fill="#E05739"/><rect x="1805" y="509.25" width="42" height="7.25" fill="#DE4F34"/><rect x="1805" y="503.00" width="42" height="7.25" fill="#DB4830"/><rect x="1805" y="496.75" width="42" height="7.25" fill="#D9422D"/><rect x="1805" y="490.50" width="42" height="7.25" fill="#D73B29"/><rect x="1805" y="484.25" width="42" height="7.25" fill="#D33427"/><rect x="1805" y="478.00" width="42" height="7.25" fill="#CE2D26"/><rect x="1805" y="471.75" width="42" height="7.25" fill="#C72826"/><rect x="1805" y="465.50" width="42" height="7.25" fill="#BE2427"/><rect x="1805" y="459.25" width="42" height="7.25" fill="#B42127"/><rect x="1805" y="453.00" width="42" height="7.25" fill="#AB1D28"/><rect x="1805" y="446.75" width="42" height="7.25" fill="#A51B27"/><rect x="1805" y="440.50" width="42" height="7.25" fill="#A01926"/><rect x="1805" y="434.25" width="42" height="7.25" fill="#9B1825"/><rect x="1805" y="428.00" width="42" height="7.25" fill="#961724"/><rect x="1805" y="421.75" width="42" height="7.25" fill="#911523"/><rect x="1805" y="415.50" width="42" height="7.25" fill="#8C1322"/><rect x="1805" y="409.25" width="42" height="7.25" fill="#871022"/><rect x="1805" y="403.00" width="42" height="7.25" fill="#810D21"/><rect x="1805" y="396.75" width="42" height="7.25" fill="#7C0A21"/><rect x="1805" y="390.50" width="42" height="7.25" fill="#770721"/><rect x="1805" y="384.25" width="42" height="7.25" fill="#710420"/><rect x="1805" y="378.00" width="42" height="7.25" fill="#6C0120"/><rect x="1927" y="426" width="59" height="58.7" fill="#0072B2"/><rect x="1927" y="488.2" width="59" height="58.5" fill="#D55E00"/></g>
<text x="1862.5" y="505.2" font-size="42">2</text>
<text x="1862.5" y="622.1" font-size="42">1</text>
<text x="1862.5" y="738.2" font-size="42">0</text>
<text x="1862.5" y="854.2" font-size="42">-1</text>
<text x="1862.5" y="970.3" font-size="42">-2</text>
<text x="1926.5" y="410.1" font-size="42" font-weight="bold">Treatment</text>
<text x="1999.6" y="472.1" font-size="42">Normal</text>
<text x="1999.6" y="533.9" font-size="42">PEG</text>
</svg></body></html>
